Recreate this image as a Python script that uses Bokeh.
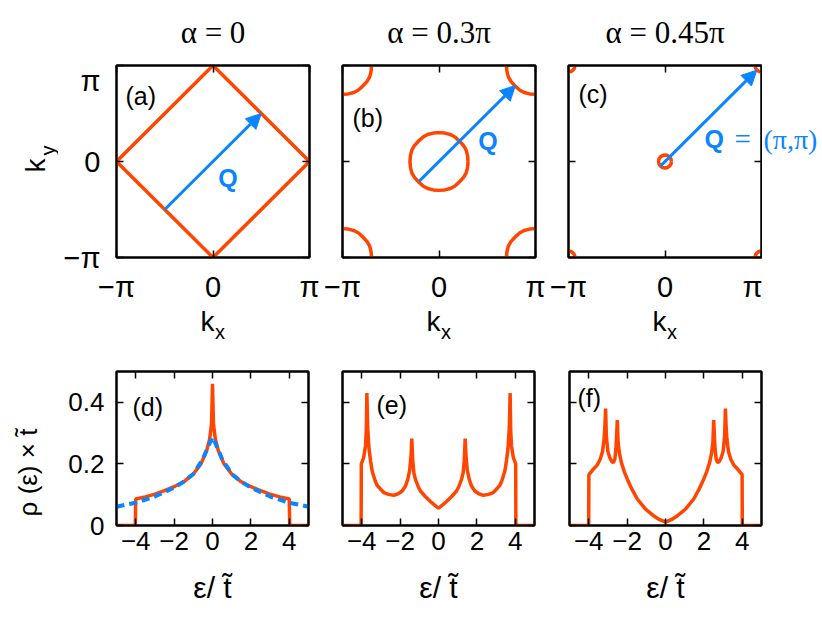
import math
from bokeh.plotting import figure
from bokeh.models import Range1d, LinearAxis, FixedTicker, Label, Arrow, NormalHead
from bokeh.layouts import row, column
from bokeh.embed import file_html
from bokeh.resources import INLINE

PI = math.pi
RED = "#ff4500"
BLUE = "#0a84ff"
SANS = "Liberation Sans"
SERIF = "Liberation Serif"

# ---------------- data ----------------
titles = ["α = 0", "α = 0.3π", "α = 0.45π"]
panel_tags = ["(a)", "(b)", "(c)", "(d)", "(e)", "(f)"]

k_ticks = [-PI, 0, PI]
k_tick_labels = ["−π", "0", "π"]
e_ticks = [-4, -2, 0, 2, 4]
e_tick_labels = ["−4", "−2", "0", "2", "4"]
rho_ticks = [0, 0.2, 0.4]
rho_tick_labels = ["0", "0.2", "0.4"]

# Fermi surface (a): square
fs_a_kx = [0, PI, 0, -PI, 0]
fs_a_ky = [PI, 0, -PI, 0, PI]
# Fermi pocket (b), first quadrant (around its centre)
pocket_b_kx = [0.945, 0.93, 0.885, 0.80, 0.70, 0.63, 0.52, 0.37, 0.19, 0.0]
pocket_b_ky = [0.0, 0.19, 0.37, 0.52, 0.63, 0.70, 0.80, 0.885, 0.93, 0.945]
# Fermi pocket (c), first quadrant
pocket_c_kx = [0.21, 0.195, 0.15, 0.08, 0.0]
pocket_c_ky = [0.0, 0.08, 0.15, 0.195, 0.21]
# pocket centres: Gamma and the four M corners
pocket_cx = [0, PI, -PI, PI, -PI]
pocket_cy = [0, PI, PI, -PI, -PI]

# nesting vector Q arrows
q_x0 = [-1.571, -0.65, -0.15]
q_y0 = [-1.571, -0.65, -0.15]
q_x1 = [1.571, 2.49, 2.99]
q_y1 = [1.571, 2.49, 2.99]

# DOS (d)
eps_d = [-5, -4.02, -4.0, -3.5, -3.0, -2.5, -2.0, -1.5, -1.0, -0.6, -0.3, -0.15, -0.05, 0,
         0.05, 0.15, 0.3, 0.6, 1.0, 1.5, 2.0, 2.5, 3.0, 3.5, 4.0, 4.02, 5]
rho_d = [0, 0, 0.086, 0.093, 0.102, 0.113, 0.126, 0.142, 0.167, 0.20, 0.244, 0.28, 0.33, 0.46,
         0.33, 0.28, 0.244, 0.20, 0.167, 0.142, 0.126, 0.113, 0.102, 0.093, 0.086, 0, 0]
eps_d_fit = [-5, -4, -3, -2, -1.5, -1, -0.5, -0.2, 0, 0.2, 0.5, 1, 1.5, 2, 3, 4, 5]
rho_d_fit = [0.061, 0.074, 0.094, 0.123, 0.142, 0.167, 0.216, 0.26, 0.287, 0.26, 0.216, 0.167,
             0.142, 0.123, 0.094, 0.074, 0.061]

# DOS (e)
eps_e = [-5, -4.03, -4.02, -3.9, -3.8, -3.76, -3.73, -3.69, -3.62, -3.54, -3.45, -3.3, -3.19,
         -3.0, -2.85, -2.6, -2.33, -2.1, -1.89, -1.72, -1.6, -1.5, -1.43, -1.39, -1.34, -1.28,
         -1.2, -1.05, -0.94, -0.7, -0.42, -0.2, 0,
         0.2, 0.42, 0.7, 0.94, 1.05, 1.2, 1.28, 1.34, 1.39, 1.43, 1.5, 1.6, 1.72, 1.89, 2.1,
         2.33, 2.6, 2.85, 3.0, 3.19, 3.3, 3.45, 3.54, 3.62, 3.69, 3.73, 3.76, 3.8, 3.9, 4.02,
         4.03, 5]
rho_e = [0, 0, 0.20, 0.22, 0.26, 0.31, 0.43, 0.32, 0.25, 0.21, 0.175, 0.145, 0.13,
         0.117, 0.107, 0.101, 0.098, 0.103, 0.112, 0.128, 0.15, 0.18, 0.227, 0.282, 0.21, 0.17,
         0.15, 0.125, 0.112, 0.095, 0.078, 0.066, 0.056,
         0.066, 0.078, 0.095, 0.112, 0.125, 0.15, 0.17, 0.21, 0.282, 0.227, 0.18, 0.15, 0.128,
         0.112, 0.103, 0.098, 0.101, 0.107, 0.117, 0.13, 0.145, 0.175, 0.21, 0.25, 0.32, 0.43,
         0.31, 0.26, 0.22, 0.20, 0, 0]

# DOS (f)
eps_f = [-5, -4.0, -3.99, -3.8, -3.56, -3.4, -3.28, -3.2, -3.15, -3.12, -3.08, -3.0, -2.9,
         -2.8, -2.72, -2.64, -2.58, -2.54, -2.51, -2.47, -2.4, -2.3, -2.15, -2.0, -1.75, -1.47,
         -1.04, -0.61, -0.3, 0,
         0.3, 0.61, 1.04, 1.47, 1.75, 2.0, 2.15, 2.3, 2.4, 2.47, 2.51, 2.54, 2.58, 2.64, 2.72,
         2.8, 2.9, 3.0, 3.08, 3.12, 3.15, 3.2, 3.28, 3.4, 3.56, 3.8, 3.99, 4.0, 5]
rho_f = [0, 0, 0.165, 0.18, 0.196, 0.215, 0.24, 0.28, 0.33, 0.38, 0.29, 0.24, 0.22,
         0.208, 0.204, 0.215, 0.25, 0.30, 0.342, 0.27, 0.235, 0.205, 0.175, 0.152, 0.118, 0.086,
         0.053, 0.031, 0.019, 0.011,
         0.019, 0.031, 0.053, 0.086, 0.118, 0.152, 0.175, 0.205, 0.235, 0.27, 0.342, 0.30, 0.25,
         0.215, 0.204, 0.208, 0.22, 0.24, 0.29, 0.38, 0.33, 0.28, 0.24, 0.215, 0.196, 0.18,
         0.165, 0, 0]


def full_loop(qx, qy):
    """Close a first-quadrant contour by the square-lattice symmetry."""
    xs = list(qx) + [-x for x in reversed(qx)][1:] + [-x for x in qx][1:] + list(reversed(qx))[1:]
    ys = list(qy) + list(reversed(qy))[1:] + [-y for y in qy][1:] + [-y for y in reversed(qy)][1:]
    return xs, ys


# ---------------- layout geometry (page pixels) ----------------
TOP_X = [(116, 309), (342, 535), (568, 761)]
TOP_T, TOP_B = 65, 257
BOT_X = [(116, 308), (342, 534), (569, 761)]
BOT_T, BOT_B = 369, 523
KR = (-PI, PI)
ER = (-5, 5)
RR = (0, 0.5)

TITLE_H = 64            # strip with the alpha titles
KY_W = 58               # strip left of the top row
Q_W = 59                # strip right of panel (c)
TOP_BT, TOP_BB = TOP_T - TITLE_H, 46
TOP_ROW_Y0 = TITLE_H
TOP_ROW_Y1 = TOP_B + TOP_BB
BOT_ROW_Y0 = 345
RHO_W = 60
BOT_BT, BOT_BB = BOT_T - BOT_ROW_Y0, 36
BOT_ROW_Y1 = BOT_B + BOT_BB
EPS_H = 56
TOP_BORDERS = [(TOP_X[0][0] - KY_W, 14), (19, 14), (19, 1)]
BOT_BORDERS = [(BOT_X[0][0] - RHO_W, 14), (20, 14), (21, 53)]


def label(p, x, y, text, font=SANS, size=25, color="black", align="left",
          baseline="middle", angle=0.0, style="normal", units="data"):
    p.add_layout(Label(x=x, y=y, x_units=units, y_units=units, text=text,
                       text_font=font, text_font_size=f"{size}px",
                       text_color=color, text_align=align, text_baseline=baseline,
                       angle=angle, text_font_style=style))


def strip(x0, x1, y0, y1):
    """Blank figure whose data coordinates are page pixels (y downwards)."""
    s = figure(frame_width=x1 - x0, frame_height=y1 - y0,
               x_range=Range1d(x0, x1), y_range=Range1d(y1, y0),
               x_axis_location=None, y_axis_location=None,
               output_backend="svg", toolbar_location=None, min_border=0)
    s.grid.visible = False
    s.outline_line_color = None
    s.background_fill_color = "white"
    s.border_fill_color = "white"
    return s


def style_axis(ax, ticks, labels, size, standoff, show):
    ax.ticker = FixedTicker(ticks=list(ticks))
    ax.major_label_overrides = {t: (l if show else "") for t, l in zip(ticks, labels)}
    ax.major_tick_in = 7
    ax.major_tick_out = 0
    ax.major_tick_line_width = 1.5
    ax.major_tick_line_color = "black"
    ax.minor_tick_line_color = None
    ax.axis_line_width = 2
    ax.axis_line_color = "black"
    ax.major_label_text_font = SANS
    ax.major_label_text_font_size = f"{size}px" if show else "1px"
    ax.major_label_text_color = "black"
    ax.major_label_standoff = standoff if show else 0


def make_fig(xr, yr, fw, fh, bl, br, bt, bb, xt, xl, yt, yl, size, xs, ys, showx, showy):
    p = figure(frame_width=fw, frame_height=fh, x_range=Range1d(*xr), y_range=Range1d(*yr),
               output_backend="svg", toolbar_location=None,
               min_border_left=bl, min_border_right=br, min_border_top=bt, min_border_bottom=bb)
    p.grid.visible = False
    p.outline_line_color = "black"
    p.outline_line_width = 2
    p.background_fill_color = "white"
    p.border_fill_color = "white"
    style_axis(p.xaxis[0], xt, xl, size, xs, showx)
    style_axis(p.yaxis[0], yt, yl, size, ys, showy)
    top = LinearAxis()
    style_axis(top, xt, xl, size, 0, False)
    right = LinearAxis()
    style_axis(right, yt, yl, size, 0, False)
    p.add_layout(top, "above")
    p.add_layout(right, "right")
    return p


# ---------- strips holding the texts outside the panels ----------
title_strip = strip(0, 821, 0, TITLE_H)
ky_strip = strip(0, KY_W, TOP_ROW_Y0, TOP_ROW_Y1)
q_strip = strip(TOP_X[2][1] + 1, TOP_X[2][1] + 1 + Q_W, TOP_ROW_Y0, TOP_ROW_Y1)
kx_strip = strip(0, 821, TOP_ROW_Y1, BOT_ROW_Y0)
rho_strip = strip(0, RHO_W, BOT_ROW_Y0, BOT_ROW_Y1)
eps_strip = strip(0, 821, BOT_ROW_Y1, BOT_ROW_Y1 + EPS_H)

# ---------- top row: Fermi surfaces ----------
top_figs = []
for i in range(3):
    L, R = TOP_X[i]
    bl, br = TOP_BORDERS[i]
    ox, oy = L - bl, TOP_ROW_Y0
    p = make_fig(KR, KR, R - L, TOP_B - TOP_T, bl, br, TOP_BT, TOP_BB,
                 k_ticks, k_tick_labels, k_ticks, k_tick_labels, 29, 13, 16, True, i == 0)
    if i == 0:
        p.line(fs_a_kx, fs_a_ky, line_color=RED, line_width=3.5)
    else:
        qx, qy = (pocket_b_kx, pocket_b_ky) if i == 1 else (pocket_c_kx, pocket_c_ky)
        lx, ly = full_loop(qx, qy)
        for cx, cy in zip(pocket_cx, pocket_cy):
            p.line([x + cx for x in lx], [y + cy for y in ly], line_color=RED, line_width=3.5)
    p.add_layout(Arrow(x_start=q_x0[i], y_start=q_y0[i], x_end=q_x1[i], y_end=q_y1[i],
                       line_color=BLUE, line_width=3,
                       end=NormalHead(size=15, fill_color=BLUE, line_color=BLUE, line_width=1)))
    cxp = (L + R) / 2
    label(title_strip, cxp, 32, titles[i], font=SERIF, size=31, align="center")
    tag_pos = [(125, 95), (352, 117), (578, 93)][i]
    label(p, tag_pos[0] - ox, tag_pos[1] - oy, panel_tags[i], size=25, units="canvas")
    if i == 0:
        label(p, 227.5 - ox, 177 - oy, "Q", size=25, color=BLUE, align="center",
              style="bold", units="canvas")
    elif i == 1:
        label(p, 487.5 - ox, 140 - oy, "Q", size=25, color=BLUE, align="center",
              style="bold", units="canvas")
    else:
        label(p, 704 - ox, 138 - oy, "Q", size=25, color=BLUE, style="bold", units="canvas")
        label(p, 734 - ox, 138 - oy, "=", font=SERIF, size=29, color=BLUE, units="canvas")
        label(q_strip, 763, 138, "(π,π)", font=SERIF, size=28, color=BLUE)
    # k_x label
    label(kx_strip, cxp - 5.5, 318.5, "k", size=28, align="center")
    label(kx_strip, cxp + 7, 329, "x", size=20, align="center")
    top_figs.append(p)

label(ky_strip, 35, 164, "k", size=28, align="center", angle=PI / 2)
label(ky_strip, 47, 149, "y", size=20, align="center", angle=PI / 2)

# ---------- bottom row: DOS ----------
dos_x = [eps_d, eps_e, eps_f]
dos_y = [rho_d, rho_e, rho_f]
tag_pos_b = [(132, 404), (376, 402), (577, 395)]
bot_figs = []
for i in range(3):
    L, R = BOT_X[i]
    bl, br = BOT_BORDERS[i]
    ox, oy = L - bl, BOT_ROW_Y0
    p = make_fig(ER, RR, R - L, BOT_B - BOT_T, bl, br, BOT_BT, BOT_BB,
                 e_ticks, e_tick_labels, rho_ticks, rho_tick_labels, 26, 6, 12, True, i == 0)
    p.line(dos_x[i], dos_y[i], line_color=RED, line_width=3.5)
    if i == 0:
        p.line(eps_d_fit, rho_d_fit, line_color=BLUE, line_width=4, line_dash="8 5")
    label(p, tag_pos_b[i][0] - ox, tag_pos_b[i][1] - oy, panel_tags[3 + i], size=25,
          units="canvas")
    label(eps_strip, (L + R) / 2, 585, "ε/ t̃", size=30, align="center")
    bot_figs.append(p)

label(rho_strip, 27, 446, "ρ (ε) × t̃", size=26, align="center", angle=PI / 2)

layout = column(
    title_strip,
    row(ky_strip, top_figs[0], top_figs[1], top_figs[2], q_strip),
    kx_strip,
    row(rho_strip, bot_figs[0], bot_figs[1], bot_figs[2]),
    eps_strip,
)
open("out.html", "w").write(file_html(layout, INLINE))
